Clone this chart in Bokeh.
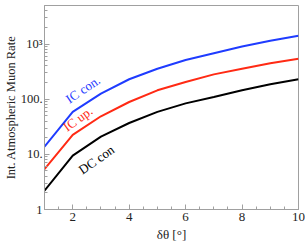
import math
from bokeh.plotting import figure
from bokeh.models import FixedTicker, ColumnDataSource
from bokeh.core.properties import value
from bokeh.embed import file_html
from bokeh.resources import INLINE

dtheta = [1, 2, 3, 4, 5, 6, 7, 8, 9, 10]
ic_con = [13.8, 59, 126, 230, 357, 515, 680, 900, 1150, 1420]
ic_up = [5.4, 22.5, 49, 89, 145, 205, 282, 356, 450, 540]
dc_con = [2.2, 9.5, 21, 37, 59, 84, 110, 145, 186, 230]

y_ticks = [1, 10, 100, 1000]
y_tick_labels = ["1", "10.", "100.", "10³"]
x_ticks = [2, 4, 6, 8, 10]

labels = ["IC con.", "IC up.", "DC con"]
label_x = [2.36, 2.18, 2.84]
label_y = [150, 44, 8.0]
label_angle_deg = [34, 36, 35]
label_colors = ["#1f3cff", "#ff2a14", "#000000"]

FONT = "Liberation Serif"
FRAME = "#a0a0a0"

p = figure(width=305, height=244, y_axis_type="log",
           x_range=(1, 10), y_range=(1, 5000),
           output_backend="svg", toolbar_location=None,
           min_border_left=0, min_border_right=7, min_border_top=5, min_border_bottom=0)
p.grid.visible = False
p.outline_line_color = FRAME
p.background_fill_color = "white"
p.border_fill_color = "white"

minor_y = [m * 10 ** d for d in range(0, 4) for m in range(2, 10) if m * 10 ** d <= 5000]
minor_x = [1 + 0.5 * i for i in range(0, 19)]

def style_axis(ax):
    ax.axis_line_color = FRAME
    ax.major_tick_line_color = FRAME
    ax.minor_tick_line_color = FRAME
    ax.major_tick_in = 5
    ax.major_tick_out = 0
    ax.minor_tick_in = 3
    ax.minor_tick_out = 0
    ax.major_label_text_font = FONT
    ax.major_label_text_font_size = "13px"
    ax.major_label_text_color = "#222222"
    ax.axis_label_text_font = FONT
    ax.axis_label_text_font_style = "normal"
    ax.axis_label_text_color = "#222222"

yax = p.yaxis[0]
yax.ticker = FixedTicker(ticks=y_ticks, minor_ticks=minor_y)
yax.major_label_overrides = {t: l for t, l in zip(y_ticks, y_tick_labels)}
yax.axis_label = "Int. Atmospheric Muon Rate"
style_axis(yax)
yax.major_label_text_font_size = "12.5px"
yax.axis_label_text_font_size = "12.5px"
yax.major_label_standoff = 2
yax.axis_label_standoff = 0

xax = p.xaxis[0]
xax.ticker = FixedTicker(ticks=x_ticks, minor_ticks=minor_x)
xax.axis_label = "δθ [°]"
style_axis(xax)
xax.axis_label_text_font_size = "13px"
xax.major_label_standoff = 3
xax.axis_label_standoff = 3

p.line(dtheta, ic_con, line_color=label_colors[0], line_width=2)
p.line(dtheta, ic_up, line_color=label_colors[1], line_width=2)
p.line(dtheta, dc_con, line_color=label_colors[2], line_width=2)

src = ColumnDataSource(dict(x=label_x, y=label_y, t=labels,
                            a=[math.radians(a) for a in label_angle_deg],
                            c=label_colors))
p.text(x="x", y="y", text="t", angle="a", text_color="c", source=src,
       text_font=value(FONT), text_font_size="13px",
       text_align="center", text_baseline="middle")

open("out.html", "w").write(file_html(p, INLINE))
